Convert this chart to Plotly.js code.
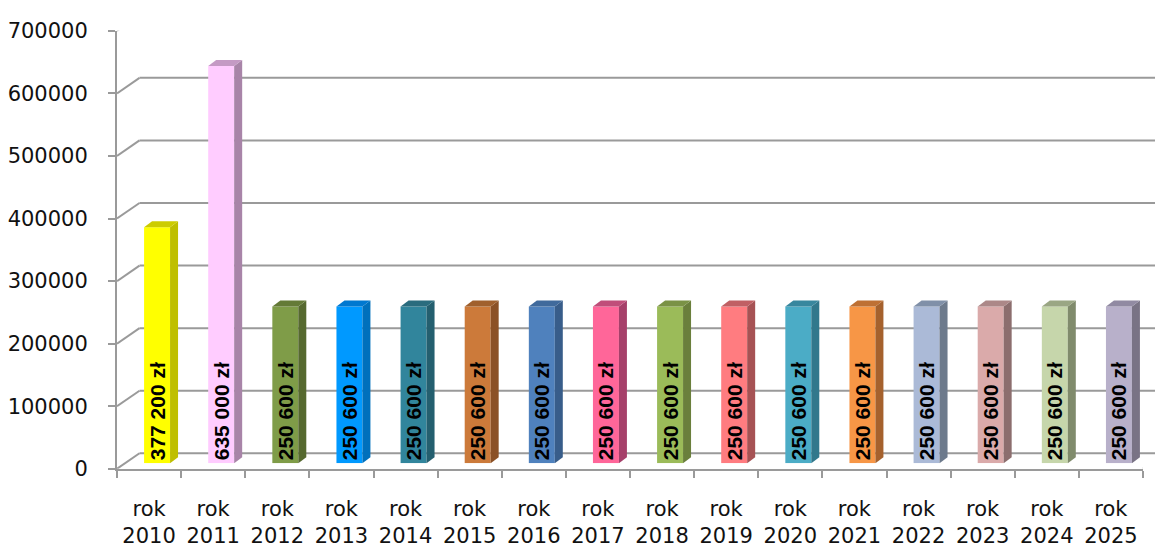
<!DOCTYPE html>
<html>
<head>
<meta charset="utf-8">
<script src="https://cdn.plot.ly/plotly-3.0.1.min.js"></script>
<style>html,body{margin:0;padding:0;background:#fff;}#chart{width:1155px;height:547px;}</style>
</head>
<body>
<div id="chart"></div>
<script>
// ---- data ----
const years = ['2010','2011','2012','2013','2014','2015','2016','2017','2018','2019','2020','2021','2022','2023','2024','2025'];
const values = [377200, 635000, 250600, 250600, 250600, 250600, 250600, 250600, 250600, 250600, 250600, 250600, 250600, 250600, 250600, 250600];
const categoryLabels = years.map(y => 'rok<br>' + y);
const yTickValues = [0, 100000, 200000, 300000, 400000, 500000, 600000, 700000];
const yTickLabels = ['0', '100000', '200000', '300000', '400000', '500000', '600000', '700000'];
const frontColors = ['#FFFF00','#FFCCFF','#7F9C48','#0099FF','#31859C','#CC7A3A','#4F81BD','#FF6699','#9BBB59','#FF7C80','#4BACC6','#F79646','#ABBAD7','#DAAAAA','#C6D6AB','#B8B0CA'];
const sideColors  = ['#BFBF00','#A884A8','#56692F','#0070BC','#245F6F','#8B5126','#385D8A','#A6406A','#6A7F3C','#A65254','#31788C','#A5612D','#6D7A8C','#8C6E6E','#808B6C','#797385'];
const topColors   = ['#CCCC00','#C49AC4','#647A37','#0078D0','#2A6C7E','#A0602D','#406A9C','#C04E7A','#7A9246','#C06064','#38879E','#BE7034','#8090A8','#AC8888','#9AA684','#918AA2'];

function fmt(v){ return String(v).replace(/\B(?=(\d{3})+(?!\d))/g, ' ') + ' zł'; }
const barText = values.map(fmt);

// ---- geometry (pixels) ----
const W = 1155, H = 547;
const frontL = 117, frontR = 1143, front0 = 468.8, frontTop = 30.8;
const depthX = 22.5, depthY = 15.5;
const barShiftX = 8, barShiftY = 5.5;
const yMax = 700000;
const catIdx = years.map((_, i) => i);
const boundaries = years.map((_, i) => i - 0.5).concat([years.length - 0.5]);

const barWidth = 0.405;
const pxPerCat = (frontR - frontL) / years.length;
const pxPerVal = (front0 - frontTop) / yMax;
const sideDX = 8 / pxPerCat;
const sideDY = 6 / pxPerVal;

const gridColor = '#9a9a9a';

const trace = {
  type: 'bar',
  x: catIdx,
  y: values,
  width: barWidth,
  xaxis: 'x3', yaxis: 'y3',
  marker: { color: frontColors, line: { width: 0 } },
  text: barText,
  textposition: 'inside',
  insidetextanchor: 'start',
  textangle: -90,
  constraintext: 'none',
  cliponaxis: false,
  textfont: { family: 'Liberation Sans', size: 21, color: '#000', weight: 'bold' },
  insidetextfont: { family: 'Liberation Sans', size: 21, color: '#000', weight: 'bold' },
  hoverinfo: 'skip'
};

const shapes = [];
// back wall gridlines and left wall diagonals
yTickValues.forEach(v => {
  shapes.push({ type: 'line', layer: 'below', xref: 'paper', yref: 'y2',
    x0: (frontL + depthX) / W, x1: 1,
    ysizemode: 'pixel', yanchor: v, y0: depthY, y1: depthY,
    line: { color: gridColor, width: 2 } });
  shapes.push({ type: 'line', layer: 'below', xref: 'x2', yref: 'y2',
    xsizemode: 'pixel', xanchor: -0.5, x0: 0, x1: depthX,
    ysizemode: 'pixel', yanchor: v, y0: 0, y1: depthY,
    line: { color: gridColor, width: 2 } });
});
// right floor edge
shapes.push({ type: 'line', layer: 'below', xref: 'x2', yref: 'y2',
  xsizemode: 'pixel', xanchor: years.length - 0.5, x0: 0, x1: depthX,
  ysizemode: 'pixel', yanchor: 0, y0: 0, y1: depthY,
  line: { color: gridColor, width: 2 } });
// bar side and top faces
values.forEach((v, i) => {
  const l = i - barWidth / 2, r = i + barWidth / 2;
  shapes.push({ type: 'path', layer: 'above', xref: 'x3', yref: 'y3',
    path: `M ${r},0 L ${r + sideDX},${sideDY} L ${r + sideDX},${v + sideDY} L ${r},${v} Z`,
    fillcolor: sideColors[i], line: { width: 0 } });
  shapes.push({ type: 'path', layer: 'above', xref: 'x3', yref: 'y3',
    path: `M ${l},${v} L ${l + sideDX},${v + sideDY} L ${r + sideDX},${v + sideDY} L ${r},${v} Z`,
    fillcolor: topColors[i], line: { width: 0 } });
});

const tickFont = { family: 'DejaVu Sans', size: 21, color: '#111' };

const layout = {
  width: W, height: H,
  margin: { l: 0, r: 0, t: 0, b: 0 },
  paper_bgcolor: '#fff', plot_bgcolor: 'rgba(0,0,0,0)',
  showlegend: false,
  // front plane axes
  xaxis2: { domain: [frontL / W, frontR / W], range: [-0.5, years.length - 0.5], anchor: 'y2',
    tickmode: 'array', tickvals: catIdx, ticktext: categoryLabels, tickfont: tickFont,
    ticks: '', ticklabelstandoff: 20,
    minor: { tickmode: 'array', tickvals: boundaries, ticks: 'outside', ticklen: 7, tickwidth: 2, tickcolor: gridColor, showgrid: false },
    showline: true, linecolor: gridColor, linewidth: 2, showgrid: false, zeroline: false },
  yaxis2: { domain: [1 - front0 / H, 1 - frontTop / H], range: [0, yMax], anchor: 'x2',
    tickmode: 'array', tickvals: yTickValues, ticktext: yTickLabels, tickfont: tickFont,
    ticks: 'outside', ticklen: 7, tickwidth: 2, tickcolor: gridColor,
    showline: true, linecolor: gridColor, linewidth: 2, showgrid: false, zeroline: false,
    ticklabelstandoff: 16 },
  // bar plane
  xaxis3: { domain: [(frontL + barShiftX) / W, (frontR + barShiftX) / W], range: [-0.5, years.length - 0.5], anchor: 'y3', visible: false },
  yaxis3: { domain: [1 - (front0 - barShiftY) / H, 1 - (frontTop - barShiftY) / H], range: [0, yMax], anchor: 'x3', visible: false },
  shapes: shapes
};

Plotly.newPlot('chart', [trace], layout, { displayModeBar: false, staticPlot: true });
</script>
</body>
</html>
